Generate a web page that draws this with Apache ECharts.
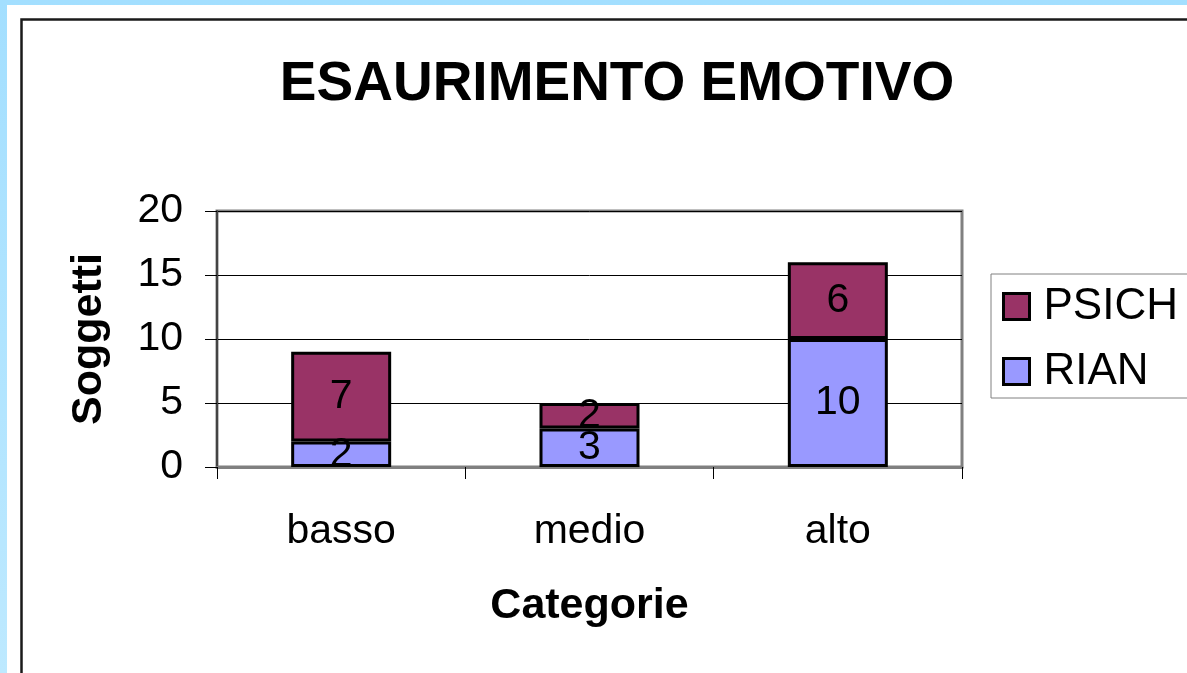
<!DOCTYPE html>
<html>
<head>
<meta charset="utf-8">
<script src="https://cdn.jsdelivr.net/npm/echarts@6/dist/echarts.min.js"></script>
<style>
html,body{margin:0;padding:0;background:#fff;}
#chart{width:1187px;height:673px;}
</style>
</head>
<body>
<div id="chart"></div>
<script>
const categories = ['basso', 'medio', 'alto'];
const rianValues = [2, 3, 10];
const psichValues = [7, 2, 6];
const seriesNames = ['PSICH', 'RIAN'];
const yTicks = {min: 0, max: 20, interval: 5};

const FONT = '"Liberation Sans", Arial, sans-serif';
const chart = echarts.init(document.getElementById('chart'), null, {renderer: 'canvas'});

const barLabel = {
  show: true,
  position: 'inside',
  color: '#000',
  fontFamily: FONT,
  fontSize: 41
};

chart.setOption({
  animation: false,
  backgroundColor: '#fff',
  graphic: [
    {
      type: 'rect', z: -10, silent: true,
      shape: {x: 0, y: 0, width: 1187, height: 673},
      style: {fill: new echarts.graphic.LinearGradient(0, 0, 0, 1, [
        {offset: 0, color: '#a3dfff'}, {offset: 1, color: '#bde9ff'}
      ])}
    },
    {
      type: 'rect', z: -9, silent: true,
      shape: {x: 7, y: 5, width: 1200, height: 700},
      style: {fill: '#ffffff'}
    },
    {
      type: 'rect', z: -8, silent: true,
      shape: {x: 21.5, y: 19.5, width: 1200, height: 700},
      style: {fill: '#ffffff', stroke: '#1a1a1a', lineWidth: 2.5}
    }
  ],
  title: {
    text: 'ESAURIMENTO EMOTIVO',
    left: 612,
    top: 52,
    textAlign: 'center',
    textStyle: {fontFamily: FONT, fontSize: 55, fontWeight: 'bold', color: '#000'}
  },
  legend: {
    orient: 'vertical',
    left: 991,
    top: 274,
    data: seriesNames,
    backgroundColor: '#fff',
    borderColor: '#808080',
    borderWidth: 1,
    padding: [8, 20, 2, 11],
    itemWidth: 26,
    itemHeight: 26,
    itemGap: 16,
    icon: 'rect',
    itemStyle: {borderColor: '#000', borderWidth: 3},
    textStyle: {fontFamily: FONT, fontSize: 44, lineHeight: 44, color: '#000', padding: [5, 0, 0, 9]}
  },
  grid: {
    left: 217, top: 211, width: 745, height: 256,
    show: true, borderColor: '#808080', borderWidth: 3,
    containLabel: false
  },
  xAxis: {
    type: 'category',
    data: categories,
    name: 'Categorie',
    nameLocation: 'middle',
    nameGap: 118,
    nameTextStyle: {fontFamily: FONT, fontSize: 43, fontWeight: 'bold', color: '#000'},
    axisLine: {show: true, lineStyle: {color: '#808080', width: 3}},
    axisTick: {show: true, length: 12, lineStyle: {color: '#000', width: 1}},
    axisLabel: {fontFamily: FONT, fontSize: 41, color: '#000', margin: 44}
  },
  yAxis: {
    type: 'value',
    min: yTicks.min, max: yTicks.max, interval: yTicks.interval,
    name: 'Soggetti',
    nameLocation: 'middle',
    nameGap: 106,
    nameTextStyle: {fontFamily: FONT, fontSize: 43, fontWeight: 'bold', color: '#000'},
    axisLine: {show: true, lineStyle: {color: '#444', width: 2}},
    axisTick: {show: true, length: 12, lineStyle: {color: '#000', width: 1}},
    axisLabel: {fontFamily: FONT, fontSize: 41, color: '#000', margin: 34},
    splitLine: {show: true, lineStyle: {color: '#000', width: 1}}
  },
  series: [
    {
      name: 'RIAN', type: 'bar', stack: 'total', data: rianValues,
      barWidth: 100,
      itemStyle: {color: '#9999FF', borderColor: '#000', borderWidth: 3},
      label: barLabel
    },
    {
      name: 'PSICH', type: 'bar', stack: 'total', data: psichValues,
      barWidth: 100,
      itemStyle: {color: '#993366', borderColor: '#000', borderWidth: 3},
      label: barLabel
    }
  ]
});
</script>
</body>
</html>
